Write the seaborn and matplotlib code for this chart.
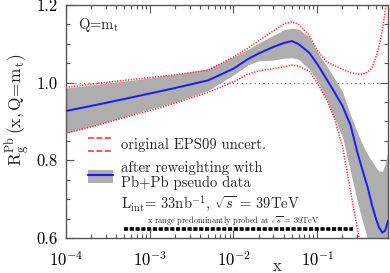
"""Gluon nuclear modification R_g^Pb at Q = m_t: EPS09 band vs. reweighted band."""

import matplotlib

matplotlib.use("Agg")

import matplotlib.pyplot as plt  # noqa: E402
import numpy as np  # noqa: E402
import seaborn as sns  # noqa: E402
from matplotlib.legend_handler import HandlerBase, HandlerTuple  # noqa: E402
from matplotlib.lines import Line2D  # noqa: E402
from matplotlib.patches import Patch  # noqa: E402
from matplotlib.ticker import FixedLocator, FuncFormatter, MultipleLocator  # noqa: E402

# --- data -------------------------------------------------------------------

x_grid = [1e-4, 2e-4, 5e-4, 1e-3, 2e-3, 5e-3, 1e-2, 0.015, 0.02, 0.03, 0.04,
          0.05, 0.06, 0.08, 0.1, 0.13, 0.16, 0.2, 0.25, 0.3, 0.35, 0.4, 0.45,
          0.5, 0.55, 0.6, 0.65, 0.7]

# central value after reweighting (blue)
rw_central = [0.927, 0.940, 0.958, 0.972, 0.986, 1.006, 1.036, 1.061, 1.075,
              1.092, 1.102, 1.107, 1.099, 1.077, 1.048, 1.008, 0.976, 0.940,
              0.890, 0.822, 0.772, 0.730, 0.685, 0.651, 0.626, 0.614, 0.620,
              0.645]
# reweighted uncertainty band (grey)
rw_upper = [0.986, 0.994, 1.004, 1.012, 1.021, 1.036, 1.066, 1.086, 1.102,
            1.122, 1.136, 1.140, 1.138, 1.118, 1.079, 1.042, 1.012, 0.977,
            0.916, 0.873, 0.838, 0.815, 0.798, 0.782, 0.772, 0.772, 0.793,
            0.827]
rw_lower = [0.870, 0.888, 0.912, 0.932, 0.950, 0.980, 1.020, 1.046, 1.056,
            1.058, 1.063, 1.064, 1.060, 1.035, 1.005, 0.955, 0.910, 0.860,
            0.770, 0.695, 0.640, 0.598, 0.560, 0.530, 0.500, 0.480, 0.460,
            0.450]
# original EPS09 uncertainty (red dotted)
eps_upper = [0.988, 0.996, 1.006, 1.013, 1.020, 1.032, 1.066, 1.089, 1.108,
             1.133, 1.151, 1.156, 1.150, 1.122, 1.083, 1.053, 1.044, 1.034,
             1.026, 1.022, 1.022, 1.027, 1.038, 1.065, 1.095, 1.136, 1.187,
             1.240]
eps_lower = [0.870, 0.886, 0.910, 0.928, 0.947, 0.975, 1.002, 1.022, 1.030,
             1.036, 1.041, 1.045, 1.042, 1.030, 1.000, 0.955, 0.910, 0.835,
             0.720, 0.627, 0.550, 0.500, 0.460, 0.430, 0.410, 0.390, 0.380,
             0.370]

probe_range = [5e-4, 0.27]   # x range predominantly probed at sqrt(s)=39 TeV
probe_level = 0.623

x_lim = (1e-4, 0.7)
y_lim = (0.6, 1.2)
x_major = [1e-4, 1e-3, 1e-2, 1e-1]
y_major = [0.6, 0.8, 1.0, 1.2]

RED = "#ff3535"
BLUE = "#1a1aff"
GREY = "#aeaeae"
EDGE = "#555555"


class HandlerBandEdges(HandlerBase):
    """Legend key drawn as the two edges of an uncertainty band."""

    def create_artists(self, legend, orig_handle, xdescent, ydescent,
                       width, height, fontsize, trans):
        artists = []
        for frac in (0.0, 1.0):
            yy = frac * height - ydescent
            ln = Line2D([-xdescent, width - xdescent], [yy, yy],
                        color=orig_handle.get_color(),
                        linestyle=orig_handle.get_linestyle(),
                        linewidth=orig_handle.get_linewidth())
            ln.set_transform(trans)
            artists.append(ln)
        return artists


sns.set_theme(style="ticks")
plt.rcParams.update({
    "font.family": "serif",
    "font.serif": ["cmr10"],
    "mathtext.fontset": "cm",
    "axes.formatter.use_mathtext": True,
    "axes.edgecolor": EDGE,
    "xtick.color": EDGE,
    "ytick.color": EDGE,
    "xtick.labelcolor": "black",
    "ytick.labelcolor": "black",
})

fig = plt.figure(figsize=(3.9, 2.73), dpi=100)
ax = fig.add_axes([0.169, 0.128, 0.826, 0.854])

x = np.array(x_grid)
ax.fill_between(x, rw_lower, rw_upper, color=GREY, linewidth=0, zorder=1)
dots = (0, (0.8, 0.9))
sns.lineplot(x=x, y=eps_upper, ax=ax, color=RED, linestyle=dots,
             linewidth=1.15, estimator=None, sort=False, zorder=3)
sns.lineplot(x=x, y=eps_lower, ax=ax, color=RED, linestyle=dots,
             linewidth=1.15, estimator=None, sort=False, zorder=3)
sns.lineplot(x=x, y=rw_central, ax=ax, color=BLUE, linewidth=1.4,
             estimator=None, sort=False, zorder=4)

ax.axhline(1.0, color="#777777", linestyle=(0, (1, 2.5)), linewidth=0.9,
           zorder=0.5)
ax.plot(probe_range, [probe_level, probe_level], color="black",
        linewidth=2.6, linestyle=(0, (1.15, 0.45)), solid_capstyle="butt",
        dash_capstyle="butt", zorder=5)

ax.set_xscale("log")
ax.set_xlim(*x_lim)
ax.set_ylim(*y_lim)

ax.xaxis.set_major_locator(FixedLocator(x_major))
ax.xaxis.set_major_formatter(
    FuncFormatter(lambda v, _: r"$\mathrm{10^{%d}}$" % round(np.log10(v))))
ax.yaxis.set_major_locator(FixedLocator(y_major))
ax.yaxis.set_major_formatter(FuncFormatter(lambda v, _: f"{v:.1f}"))
ax.yaxis.set_minor_locator(MultipleLocator(0.05))
ax.tick_params(which="both", direction="in", top=True, right=True,
               labelsize=12, width=0.8)
ax.tick_params(which="major", length=6)
ax.tick_params(which="minor", length=3.2)
ax.tick_params(axis="x", which="major", pad=9)
ax.tick_params(axis="y", which="major", pad=6)
for sp in ax.spines.values():
    sp.set_linewidth(1.0)

ax.set_xlabel("x", fontsize=12)
ax.xaxis.set_label_coords(0.655, -0.143)
ax.xaxis.label.set_va("baseline")

fig.text(18 / 390, 1 - 110 / 273,
         r"$\mathrm{R_g^{Pb}}\,\mathrm{(x,Q\!=\!m_t)}$", fontsize=12.5,
         rotation=90, ha="center", va="center")

ax.text(0.037, 0.914, r"Q=m$_\mathrm{t}$", transform=ax.transAxes,
        fontsize=10.5, va="center", ha="left")

eps_handle = Line2D([], [], color=RED, linestyle=dots, linewidth=1.15)
blue_handle = Line2D([], [], color=BLUE, linewidth=1.6)
rw_handle = (Patch(facecolor=GREY, edgecolor="none"), blue_handle)
leg = ax.legend([eps_handle, rw_handle],
                ["original EPS09 uncert.",
                 "after reweighting with\nPb+Pb pseudo data"],
                handler_map={eps_handle: HandlerBandEdges(),
                             rw_handle: HandlerTuple(ndivide=1)},
                loc="upper left", bbox_to_anchor=(0.068, 0.43), frameon=False,
                fontsize=10.5, handlelength=1.7, handleheight=1.0,
                handletextpad=0.55, labelspacing=0.6, borderpad=0,
                borderaxespad=0)
for t in leg.get_texts():
    t.set_linespacing(1.1)

ax.text(0.170, 0.152,
        r"L$_\mathrm{int}$= 33nb$^\mathrm{-1}$, $\sqrt{s}$ = 39TeV",
        transform=ax.transAxes, fontsize=10.5, va="center", ha="left")
ax.text(0.52, 0.077,
        r"x range predominantly probed at $\sqrt{s}$ = 39TeV",
        transform=ax.transAxes, fontsize=6, va="center", ha="center")

fig.savefig("out.png", dpi=100)
